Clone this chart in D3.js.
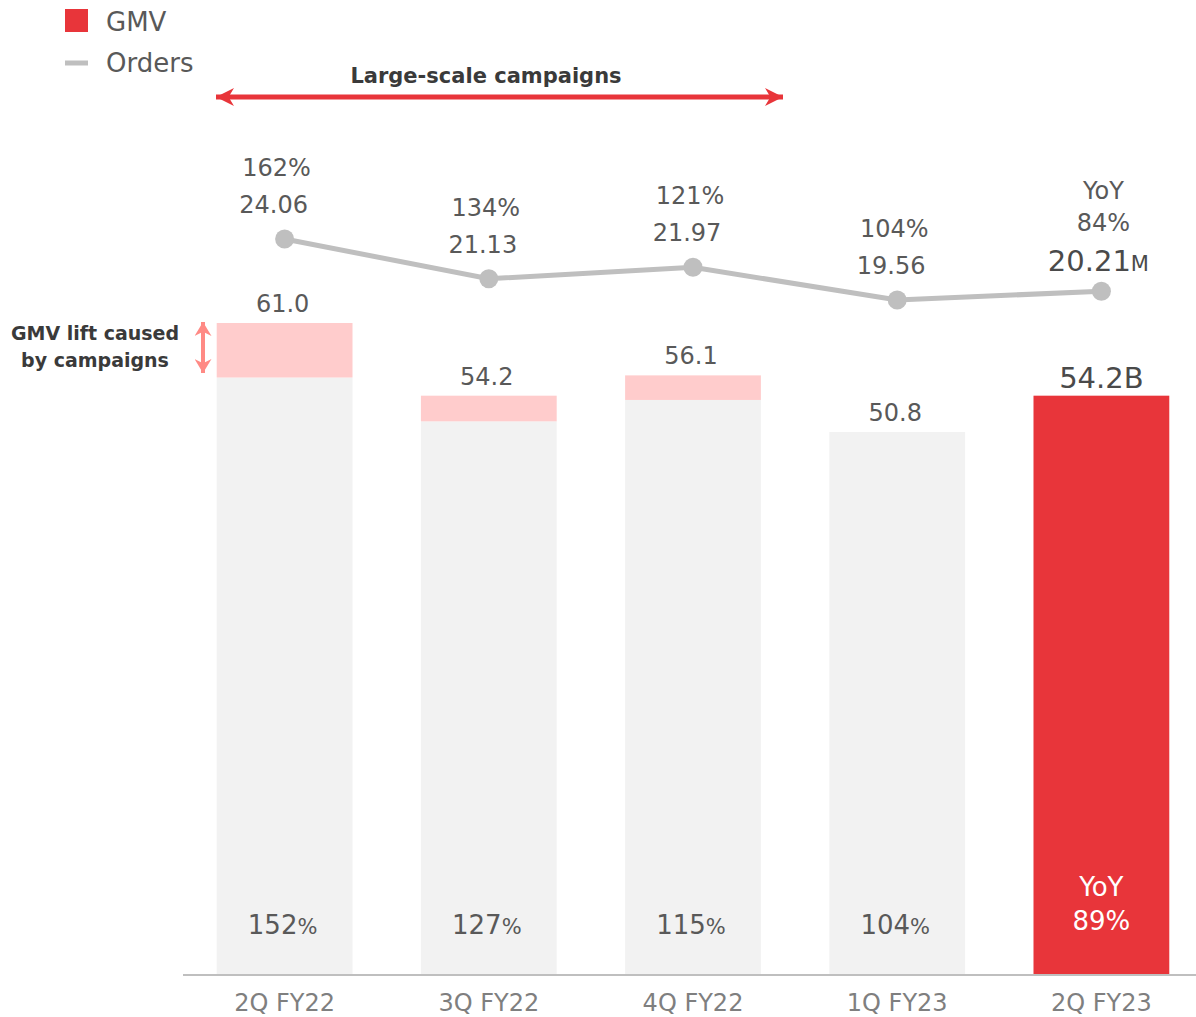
<!DOCTYPE html>
<html>
<head>
<meta charset="utf-8">
<script src="https://cdn.jsdelivr.net/npm/d3@7"></script>
<style>
  html, body { margin: 0; padding: 0; background: #fff; }
  svg { display: block; font-family: "DejaVu Sans", Verdana, sans-serif; }
</style>
</head>
<body>
<svg id="chart" width="1196" height="1017"></svg>
<script>
// Quarterly GMV (billions) and order counts (millions)
const quarters   = ["2Q FY22", "3Q FY22", "4Q FY22", "1Q FY23", "2Q FY23"];
const gmvTotal   = [61.0, 54.2, 56.1, 50.8, 54.2];
const gmvBase    = [55.9, 51.8, 53.8, 50.8, 54.2];   // GMV excluding the campaign lift
const gmvYoY     = ["152", "127", "115", "104", "89"];
const orders     = [24.06, 21.13, 21.97, 19.56, 20.21];
const ordersYoY  = ["162%", "134%", "121%", "104%", "84%"];

const RED = "#E8353A", PINK = "#FFCCCC", BAR = "#F2F2F2", LINE = "#BFBFBF";
const TXT = "#595959", AXIS = "#7F7F7F", DARK = "#3A3A3A";

const svg = d3.select("#chart");
const last = quarters.length - 1;

const x = d3.scaleBand().domain(quarters).range([182, 1204]).paddingInner(0.335).paddingOuter(0.17);
const yBar = d3.scaleLinear().domain([0, 61.0]).range([975, 323]);
const yLine = d3.scaleLinear().domain([19.56, 24.06]).range([300, 239]);
const cx = q => x(q) + x.bandwidth() / 2;

// Bars: base part, then the campaign lift stacked on top
const g = svg.append("g");
quarters.forEach((q, i) => {
  const isLast = i === last;
  g.append("rect")
    .attr("x", x(q)).attr("width", x.bandwidth())
    .attr("y", yBar(gmvBase[i])).attr("height", yBar(0) - yBar(gmvBase[i]))
    .attr("fill", isLast ? RED : BAR);
  if (gmvTotal[i] > gmvBase[i]) {
    g.append("rect")
      .attr("x", x(q)).attr("width", x.bandwidth())
      .attr("y", yBar(gmvTotal[i])).attr("height", yBar(gmvBase[i]) - yBar(gmvTotal[i]))
      .attr("fill", PINK);
  }
});

// Baseline and category axis
const axis = svg.append("g").attr("transform", "translate(0,975)")
  .call(d3.axisBottom(x).tickSize(0).tickPadding(19));
axis.select(".domain").attr("d", "M183,0H1196").attr("stroke", LINE).attr("stroke-width", 2);
axis.selectAll("text").attr("font-size", 24).attr("fill", AXIS)
  .attr("font-family", "DejaVu Sans, Verdana, sans-serif");

// GMV value labels above bars
quarters.forEach((q, i) => {
  const isLast = i === last;
  svg.append("text")
    .attr("x", cx(q) + (isLast ? 0 : -2))
    .attr("y", yBar(gmvTotal[i]) - (isLast ? 8 : 11))
    .attr("text-anchor", "middle")
    .attr("font-size", isLast ? 29 : 24)
    .attr("fill", isLast ? "#4A4A4A" : TXT)
    .text(gmvTotal[i].toFixed(1) + (isLast ? "B" : ""));
});

// GMV YoY inside bars
quarters.forEach((q, i) => {
  if (i === last) {
    const t = svg.append("text").attr("text-anchor", "middle").attr("fill", "#fff").attr("font-size", 26);
    t.append("tspan").attr("x", cx(q)).attr("y", 896).text("YoY");
    t.append("tspan").attr("x", cx(q)).attr("y", 930).text(gmvYoY[i] + "%");
  } else {
    const t = svg.append("text").attr("x", cx(q) - 2).attr("y", 934)
      .attr("text-anchor", "middle").attr("fill", TXT).attr("font-size", 26);
    t.append("tspan").text(gmvYoY[i]);
    t.append("tspan").attr("font-size", 21).text("%");
  }
});

// Orders line
const line = d3.line().x((d, i) => cx(quarters[i])).y(d => yLine(d));
svg.append("path").datum(orders).attr("d", line)
  .attr("fill", "none").attr("stroke", LINE).attr("stroke-width", 5);
svg.selectAll("circle.pt").data(orders).join("circle")
  .attr("cx", (d, i) => cx(quarters[i])).attr("cy", d => yLine(d)).attr("r", 9.5)
  .attr("fill", LINE);

// Orders labels
orders.forEach((v, i) => {
  const px = cx(quarters[i]);
  const py = yLine(v);
  if (i === last) {
    const t = svg.append("text").attr("text-anchor", "middle").attr("fill", TXT).attr("font-size", 24);
    t.append("tspan").attr("x", px + 2).attr("y", py - 92).text("YoY");
    t.append("tspan").attr("x", px + 2).attr("y", py - 60).text(ordersYoY[i]);
    const t2 = svg.append("text").attr("x", px - 3).attr("y", py - 20)
      .attr("text-anchor", "middle").attr("fill", "#4A4A4A").attr("font-size", 29);
    t2.append("tspan").text(v.toFixed(2));
    t2.append("tspan").attr("font-size", 21).text("M");
  } else {
    const dx = i === 0 ? -8 : -3;
    const t = svg.append("text").attr("text-anchor", "middle").attr("fill", TXT).attr("font-size", 24);
    t.append("tspan").attr("x", px + dx).attr("y", py - 63).text(ordersYoY[i]);
    t.append("tspan").attr("x", px + dx - 3).attr("y", py - 26).text(v.toFixed(2));
  }
});

// Arrowheads
const defs = svg.append("defs");
function arrowMarker(id, color, w, h) {
  defs.append("marker").attr("id", id)
    .attr("viewBox", `0 0 ${w} ${h}`).attr("refX", w).attr("refY", h / 2)
    .attr("markerUnits", "userSpaceOnUse")
    .attr("markerWidth", w).attr("markerHeight", h).attr("orient", "auto-start-reverse")
    .append("path").attr("d", `M0,0L${w},${h / 2}L0,${h}L${w * 0.3},${h / 2}Z`).attr("fill", color);
}
arrowMarker("arrRed", RED, 18, 18);
arrowMarker("arrPink", "#FF8A85", 14, 17);

// Campaign period annotation
svg.append("line").attr("x1", 216).attr("x2", 783).attr("y1", 97).attr("y2", 97)
  .attr("stroke", RED).attr("stroke-width", 5)
  .attr("marker-start", "url(#arrRed)").attr("marker-end", "url(#arrRed)");
svg.append("text").attr("x", 486).attr("y", 83).attr("text-anchor", "middle")
  .attr("font-size", 21).attr("font-weight", "bold").attr("fill", DARK)
  .text("Large-scale campaigns");

// Campaign lift annotation
svg.append("line").attr("x1", 203).attr("x2", 203).attr("y1", 322).attr("y2", 373)
  .attr("stroke", "#FF8A85").attr("stroke-width", 4)
  .attr("marker-start", "url(#arrPink)").attr("marker-end", "url(#arrPink)");
const ann = svg.append("text").attr("text-anchor", "middle").attr("font-size", 19)
  .attr("font-weight", "bold").attr("fill", DARK);
ann.append("tspan").attr("x", 95).attr("y", 340).text("GMV lift caused");
ann.append("tspan").attr("x", 95).attr("y", 367).text("by campaigns");

// Legend
svg.append("rect").attr("x", 65).attr("y", 9).attr("width", 23).attr("height", 23).attr("fill", RED);
svg.append("line").attr("x1", 65).attr("x2", 88).attr("y1", 63).attr("y2", 63)
  .attr("stroke", LINE).attr("stroke-width", 5);
svg.append("text").attr("x", 106).attr("y", 31).attr("font-size", 26).attr("fill", TXT).text("GMV");
svg.append("text").attr("x", 106).attr("y", 72).attr("font-size", 26).attr("fill", TXT).text("Orders");
</script>
</body>
</html>
